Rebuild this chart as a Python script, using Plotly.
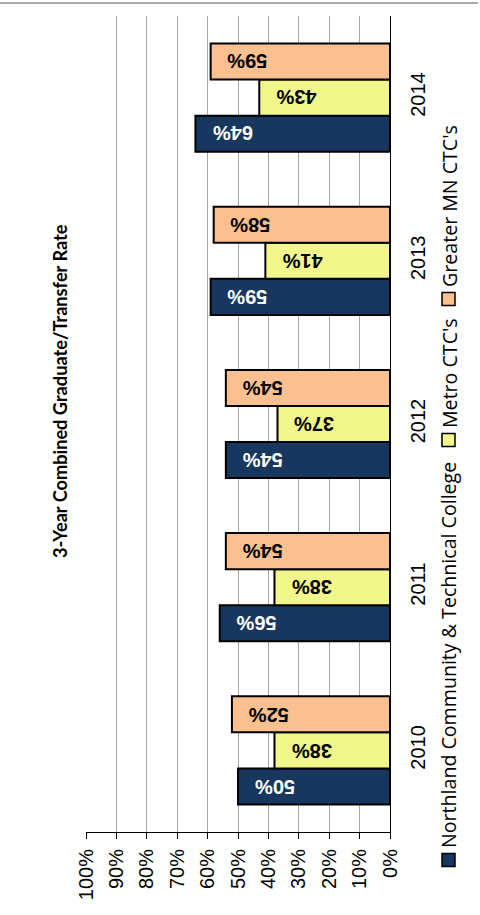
import plotly.graph_objects as go

years = ['2010', '2011', '2012', '2013', '2014']
northland = [50, 56, 54, 59, 64]
metro = [38, 38, 37, 41, 43]
greater = [52, 54, 54, 58, 59]
series_names = ["Northland Community & Technical College", "Metro CTC's", "Greater MN CTC's"]
colors = ['#17375E', '#F2F78C', '#FAC090']
text_colors = ['white', 'black', 'black']
tick_vals = [0, 10, 20, 30, 40, 50, 60, 70, 80, 90, 100]
tick_text = [f'{v}%' for v in tick_vals]
title = '3-Year Combined Graduate/Transfer Rate'

W, H = 480, 915
L, R, T, B = 86, 90, 16, 83
pw, ph = W - L - R, H - T - B

def px(x):
    return (x - L) / pw

def py(y):
    return (H - B - y) / ph

fig = go.Figure()
series = [northland, metro, greater]
for name, vals, c in zip(series_names, series, colors):
    fig.add_trace(go.Bar(
        y=years, x=vals, orientation='h', name=name,
        marker=dict(color=c, line=dict(color='black', width=2)),
        showlegend=False, hoverinfo='x+name',
    ))

fig.update_layout(
    width=W, height=H, margin=dict(l=L, r=R, t=T, b=B),
    paper_bgcolor='white', plot_bgcolor='white',
    barmode='group', bargap=0.337, bargroupgap=0,
    font=dict(family='Liberation Sans', color='black'),
    xaxis=dict(range=[100, 0], tickvals=tick_vals, ticktext=tick_text,
               tickangle=-90, ticks='outside', ticklen=6, tickcolor='black',
               showline=True, linecolor='black', linewidth=1,
               showgrid=True, gridcolor='#A6A6A6', gridwidth=1.3,
               zeroline=False, automargin=False, ticklabelstandoff=2,
               tickfont=dict(size=20, family='Liberation Sans')),
    yaxis=dict(side='right', type='category', categoryorder='array', categoryarray=years,
               range=[-0.5, 4.5],
               tickangle=-90, showline=True, linecolor='black', linewidth=1.3,
               ticks='', showgrid=False, automargin=False,
               tickfont=dict(size=20, family='Liberation Sans'),
               ticklabelstandoff=10),
)

shapes = [dict(type='line', xref='paper', yref='paper', x0=px(0), x1=px(478), y0=py(3), y1=py(3),
               line=dict(color='#8C8C8C', width=1.5))]
annotations = [dict(text=f'<b>{title}</b>', textangle=-90, xref='paper', yref='paper',
                    x=px(60), y=py(391), xanchor='center', yanchor='middle', showarrow=False,
                    font=dict(size=18.2, family='Lato', color='black'))]

# bar value labels (upside-down, inside the bar end)
bar_px = 36
offsets = [-bar_px, 0, bar_px]
for vals, tc, off in zip(series, text_colors, offsets):
    for i, v in enumerate(vals):
        annotations.append(dict(text=f'<b>{v}%</b>', textangle=180, xref='x', yref='y',
                                x=v, y=i, xanchor='left', yanchor='middle', xshift=15,
                                yshift=off, showarrow=False,
                                font=dict(size=20, family='Liberation Sans', color=tc)))

legend_sq = [860, 440, 299]
for name, c, sy in zip(series_names, colors, legend_sq):
    shapes.append(dict(type='rect', xref='paper', yref='paper', x0=px(442), x1=px(455),
                       y0=py(sy + 6.5), y1=py(sy - 6.5), fillcolor=c,
                       line=dict(color='black', width=1.5)))
    annotations.append(dict(text=name, textangle=-90, xref='paper', yref='paper',
                            x=px(449), y=py(sy - 10), xanchor='center', yanchor='bottom',
                            showarrow=False, font=dict(size=19.6, family='Open Sans', color='black')))

fig.update_layout(shapes=shapes, annotations=annotations)
fig.write_html('out.html', config={'displayModeBar': False},
               post_script="document.body.style.margin='0';document.body.style.padding='0';")
